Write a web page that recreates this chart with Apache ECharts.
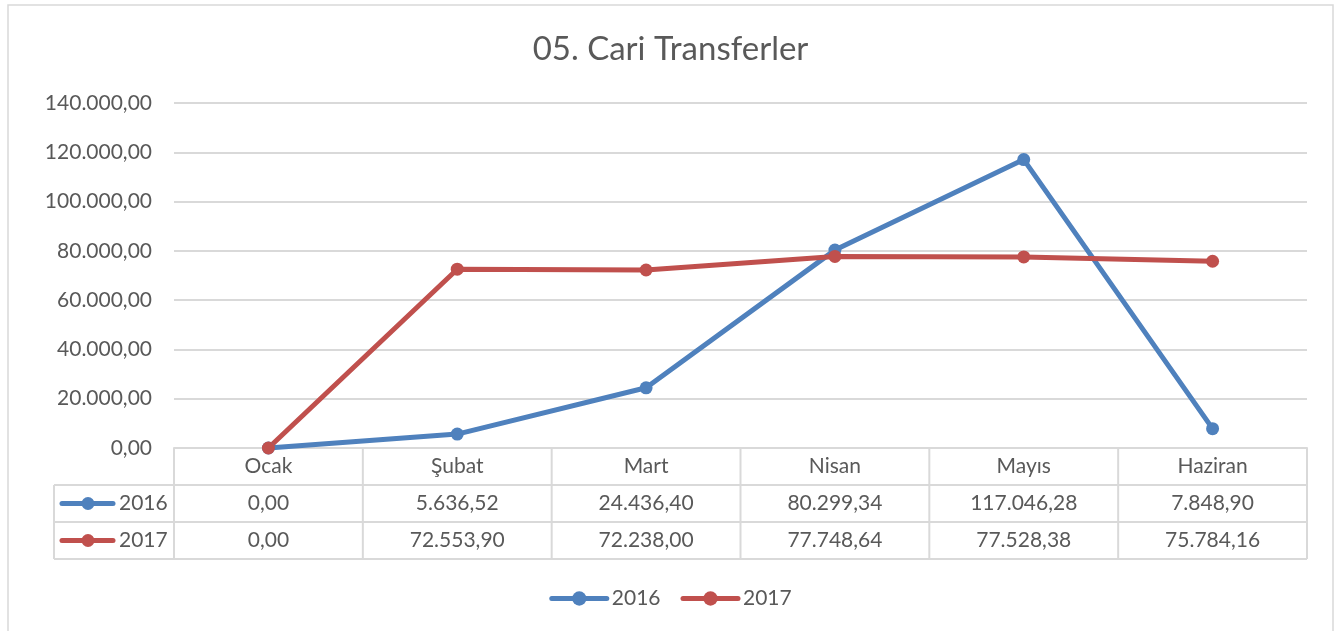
<!DOCTYPE html>
<html>
<head>
<meta charset="utf-8">
<script src="https://cdn.jsdelivr.net/npm/echarts@6/dist/echarts.min.js"></script>
<style>
html,body{margin:0;padding:0;background:#fff;}
#main{width:1341px;height:631px;}
</style>
</head>
<body>
<div id="main"></div>
<script>
// data
var months = ['Ocak', 'Şubat', 'Mart', 'Nisan', 'Mayıs', 'Haziran'];
var seriesNames = ['2016', '2017'];
var values2016 = [0, 5636.52, 24436.40, 80299.34, 117046.28, 7848.90];
var values2017 = [0, 72553.90, 72238.00, 77748.64, 77528.38, 75784.16];
var colors = ['#4F81BD', '#C0504D'];

var txt = '#595959';
var lineCol = '#D9D9D9';
var fam = 'Lato, "Open Sans", sans-serif';

// 140000 -> "140.000,00"
function trNum(v) {
	var parts = Number(v).toFixed(2).split('.');
	var ip = parts[0].replace(/\B(?=(\d{3})+(?!\d))/g, '.');
	return ip + ',' + parts[1];
}

var myChart = echarts.init(document.getElementById('main'));
var option = {
	backgroundColor: '#fff',
	animation: false,
	title: {
		text: '05. Cari Transferler',
		left: 'center',
		top: 28,
		textStyle: {color: txt, fontSize: 33, fontWeight: 'normal', fontFamily: fam}
	},
	legend: {
		data: seriesNames,
		bottom: 17,
		left: 'center',
		itemWidth: 55,
		itemHeight: 18,
		itemGap: 20,
		lineStyle: {width: 5, cap: 'round'},
		textStyle: {color: txt, fontSize: 21, fontFamily: fam}
	},
	grid: {left: 174, right: 34, top: 103, bottom: 183},
	xAxis: {
		type: 'category',
		data: months,
		boundaryGap: true,
		axisLine: {lineStyle: {color: lineCol, width: 2}},
		axisTick: {show: false},
		axisLabel: {color: txt, fontSize: 21, fontFamily: fam, margin: 8}
	},
	yAxis: {
		type: 'value',
		min: 0,
		max: 140000,
		interval: 20000,
		axisLine: {show: false},
		axisTick: {show: false},
		splitLine: {lineStyle: {color: lineCol, width: 2}},
		axisLabel: {color: txt, fontSize: 21, fontFamily: fam, margin: 22, formatter: trNum}
	},
	series: [
		{
			name: seriesNames[0],
			type: 'line',
			data: values2016,
			symbol: 'circle',
			symbolSize: 13,
			itemStyle: {color: colors[0]},
			lineStyle: {width: 5, color: colors[0]}
		},
		{
			name: seriesNames[1],
			type: 'line',
			data: values2017,
			symbol: 'circle',
			symbolSize: 13,
			itemStyle: {color: colors[1]},
			lineStyle: {width: 5, color: colors[1]}
		}
	]
};
myChart.setOption(option);

// data table under the plot, placed from the axis scales
function buildTable() {
	var g = [];
	var y0 = myChart.convertToPixel({yAxisIndex: 0}, 0);
	var c0 = myChart.convertToPixel({xAxisIndex: 0}, 0);
	var c1 = myChart.convertToPixel({xAxisIndex: 0}, 1);
	var band = c1 - c0;
	var leftEdge = c0 - band / 2;
	var rightEdge = leftEdge + band * months.length;
	var rowH = 37;
	var keyLeft = 54;
	var ls = {stroke: lineCol, lineWidth: 2};
	var rows = [values2016, values2017];

	// horizontal lines
	g.push({type: 'line', shape: {x1: keyLeft, y1: y0 + rowH, x2: rightEdge, y2: y0 + rowH}, style: ls, silent: true});
	g.push({type: 'line', shape: {x1: keyLeft, y1: y0 + rowH * 2, x2: rightEdge, y2: y0 + rowH * 2}, style: ls, silent: true});
	g.push({type: 'line', shape: {x1: keyLeft, y1: y0 + rowH * 3, x2: rightEdge, y2: y0 + rowH * 3}, style: ls, silent: true});
	// vertical lines
	g.push({type: 'line', shape: {x1: keyLeft, y1: y0 + rowH, x2: keyLeft, y2: y0 + rowH * 3}, style: ls, silent: true});
	for (var i = 0; i <= months.length; i++) {
		var x = leftEdge + band * i;
		g.push({type: 'line', shape: {x1: x, y1: y0, x2: x, y2: y0 + rowH * 3}, style: ls, silent: true});
	}
	// rows
	for (var r = 0; r < rows.length; r++) {
		var cy = y0 + rowH * (r + 1) + rowH / 2;
		g.push({type: 'line', shape: {x1: 62, y1: cy, x2: 113, y2: cy},
			style: {stroke: colors[r], lineWidth: 5, lineCap: 'round'}, silent: true});
		g.push({type: 'circle', shape: {cx: 88, cy: cy, r: 6.5}, style: {fill: colors[r]}, silent: true});
		g.push({type: 'text', x: 119, y: cy, style: {text: seriesNames[r], fill: txt,
			font: '21px ' + fam, textAlign: 'left', textVerticalAlign: 'middle'}, silent: true});
		for (var j = 0; j < months.length; j++) {
			var cx = myChart.convertToPixel({xAxisIndex: 0}, j);
			g.push({type: 'text', x: cx, y: cy, style: {text: trNum(rows[r][j]), fill: txt,
				font: '21px ' + fam, textAlign: 'center', textVerticalAlign: 'middle'}, silent: true});
		}
	}
	// outer frame
	g.push({type: 'rect', shape: {x: 8, y: 5, width: 1325, height: 640},
		style: {fill: 'none', stroke: lineCol, lineWidth: 1.5}, silent: true});
	myChart.setOption({graphic: g});
}
buildTable();
</script>
</body>
</html>
